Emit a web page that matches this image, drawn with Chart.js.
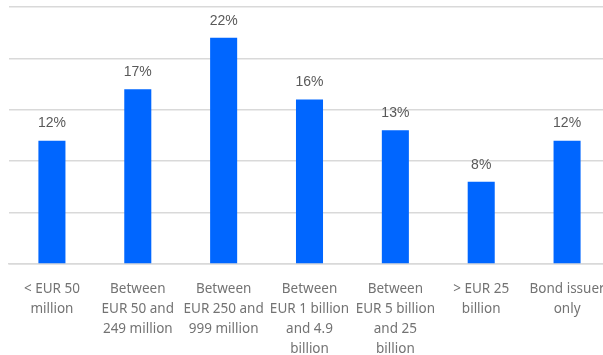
<!DOCTYPE html>
<html lang="en">
<head>
  <meta charset="UTF-8">
  <title>Share by issuer size</title>
  <style>
    html, body { margin: 0; padding: 0; background: #fff; overflow: hidden; }
    #wrap { width: 603px; height: 355px; overflow: hidden; }
  </style>
</head>
<body>
  <div id="wrap"><canvas id="chart" width="612" height="369"></canvas></div>

  <script src="https://cdn.jsdelivr.net/npm/chart.js"></script>
  <script>
    const categories = [
      ['< EUR 50', 'million'],
      ['Between', 'EUR 50 and', '249 million'],
      ['Between', 'EUR 250 and', '999 million'],
      ['Between', 'EUR 1 billion', 'and 4.9', 'billion'],
      ['Between', 'EUR 5 billion', 'and 25', 'billion'],
      ['> EUR 25', 'billion'],
      ['Bond issuer', 'only']
    ];
    const shares = [12, 17, 22, 16, 13, 8, 12];

    // value text above each bar
    const valueLabels = {
      id: 'valueLabels',
      afterDatasetsDraw(chart) {
        const ctx = chart.ctx;
        const meta = chart.getDatasetMeta(0);
        ctx.save();
        ctx.font = '14px "Liberation Sans", Arial, sans-serif';
        ctx.fillStyle = '#595959';
        ctx.textAlign = 'center';
        ctx.textBaseline = 'bottom';
        meta.data.forEach((bar, i) => {
          ctx.fillText(shares[i] + '%', bar.x, bar.y - 10);
        });
        ctx.restore();
      }
    };

    new Chart(document.getElementById('chart'), {
      type: 'bar',
      data: {
        labels: categories,
        datasets: [{
          data: shares,
          backgroundColor: '#0066ff',
          categoryPercentage: 1,
          barPercentage: 0.315
        }]
      },
      options: {
        responsive: false,
        animation: false,
        layout: { padding: { left: 9, right: 2, top: 7, bottom: 0 } },
        plugins: { legend: { display: false }, tooltip: { enabled: false } },
        scales: {
          x: {
            grid: { display: false, drawTicks: false },
            border: { color: '#d9d9d9', width: 1.5 },
            ticks: {
              color: '#737373',
              font: { family: '"Noto Sans", sans-serif', size: 13.5, lineHeight: 1.48 },
              padding: 15,
              maxRotation: 0,
              autoSkip: false
            },
            // labels may run past the edges; keep the plot width fixed
            afterFit(scale) {
              scale.paddingLeft = 0;
              scale.paddingRight = 0;
              scale.height = 105;
            }
          },
          y: {
            min: 0,
            max: 25,
            grid: { color: '#d9d9d9', lineWidth: 1.5, drawTicks: false },
            border: { display: false },
            ticks: { display: false, stepSize: 5 }
          }
        }
      },
      plugins: [valueLabels]
    });
  </script>
</body>
</html>
